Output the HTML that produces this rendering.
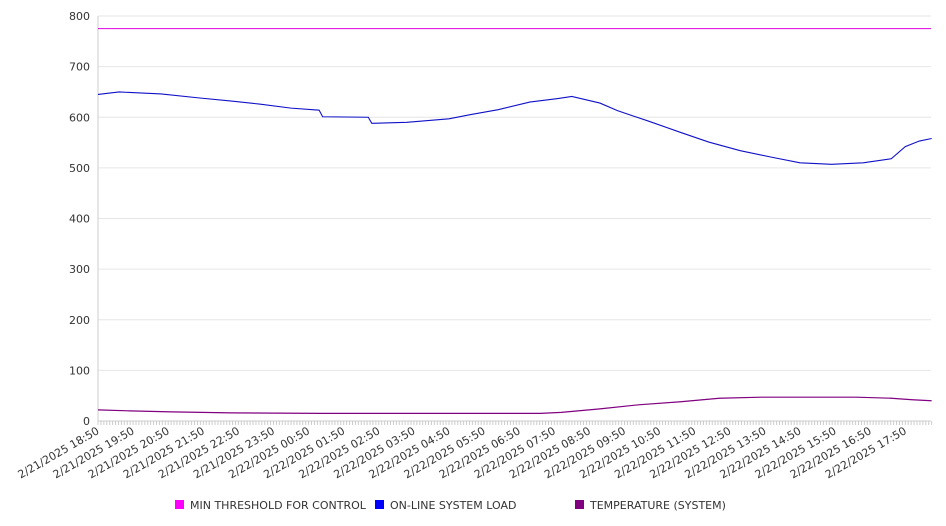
<!DOCTYPE html>
<html><head><meta charset="utf-8"><style>
body{margin:0;background:#fff;}
svg{display:block;font-family:"DejaVu Sans","Liberation Sans",sans-serif;}
</style></head><body>
<svg id="chart" width="946" height="526"></svg>
<script>
const yTicks=[0,100,200,300,400,500,600,700,800];
const hourLabels=["2/21/2025 18:50","2/21/2025 19:50","2/21/2025 20:50","2/21/2025 21:50","2/21/2025 22:50","2/21/2025 23:50","2/22/2025 00:50","2/22/2025 01:50","2/22/2025 02:50","2/22/2025 03:50","2/22/2025 04:50","2/22/2025 05:50","2/22/2025 06:50","2/22/2025 07:50","2/22/2025 08:50","2/22/2025 09:50","2/22/2025 10:50","2/22/2025 11:50","2/22/2025 12:50","2/22/2025 13:50","2/22/2025 14:50","2/22/2025 15:50","2/22/2025 16:50","2/22/2025 17:50"];
const loadHours=[0,0.6,1.8,2.9,3.8,4.6,5.5,6.3,6.4,7.7,7.8,8.8,10,10.6,11.4,12.3,13.1,13.5,14.3,14.8,15.7,16.6,17.4,18.3,19.2,20,20.9,21.8,22.6,23,23.4,23.75];
const loadValues=[645,650,646,638,632,626,618,614,601,600,588,590,597,605,615,630,637,641,628,613,592,570,551,534,521,510,507,510,518,542,553,558];
const tempHours=[0,0.9,2.1,3.8,6.3,12.6,13.2,14.3,15.4,16.6,17.7,18.9,21.6,22.6,23.2,23.75];
const tempValues=[22,20,18,16,15,15,17,24,32,38,45,47,47,45,42,40];
const thresholdValue=775;
const X0=98,X1=931,HPX=35.1,Y0=421,YS=405/800;
const xs=h=>X0+h*HPX, ys=v=>Y0-v*YS;
const svg=document.getElementById('chart');
const NS='http://www.w3.org/2000/svg';
function mk(t,a){const e=document.createElementNS(NS,t);for(const k in a)e.setAttribute(k,a[k]);svg.appendChild(e);return e;}
yTicks.forEach(v=>{
 if(v>0){const g=mk('line',{x1:X0,x2:X1,y1:ys(v),y2:ys(v),stroke:'#e6e6e6'});
 
 }
 const t=mk('text',{x:90,y:ys(v)+4,'text-anchor':'end','font-size':11,fill:'#333'});
 t.textContent=v;
 
 
});
const ax=mk('line',{x1:X0,x2:X0,y1:16,y2:Y0,stroke:'#ccc'});


const bx=mk('line',{x1:X0,x2:X1,y1:Y0,y2:Y0,stroke:'#ccc'});


for(let m=0;m<=23.75*60;m+=5){const tk=mk('line',{x1:xs(m/60),x2:xs(m/60),y1:Y0,y2:Y0+4,stroke:'#ccc'});
 
 }
hourLabels.forEach((l,i)=>{const x=xs(i)+2,y=Y0+12;
 const t=mk('text',{x:x,y:y,'text-anchor':'end','font-size':11,fill:'#333',transform:`rotate(-30 ${x} ${y})`});
 t.textContent=l;
 
 });
const th=mk('line',{x1:X0,x2:X1,y1:ys(thresholdValue),y2:ys(thresholdValue),stroke:'#e000e0','stroke-width':1});


const lp=mk('polyline',{points:loadHours.map((h,i)=>xs(h)+','+ys(loadValues[i])).join(' '),fill:'none',stroke:'#1010c8','stroke-width':1.1});


const tl=mk('polyline',{points:tempHours.map((h,i)=>xs(h)+','+ys(tempValues[i])).join(' '),fill:'none',stroke:'#800080','stroke-width':1.2});


[['MIN THRESHOLD FOR CONTROL','#ff00ff',175],['ON-LINE SYSTEM LOAD','#0000ff',375],['TEMPERATURE (SYSTEM)','#800080',575]].forEach(([n,c,x])=>{
 const r=mk('rect',{x:x,y:500,width:9,height:9,fill:c});
 
 
 const t=mk('text',{x:x+15,y:509,'font-size':11,fill:'#333'});t.textContent=n;
 
 
});
</script>
</body></html>
